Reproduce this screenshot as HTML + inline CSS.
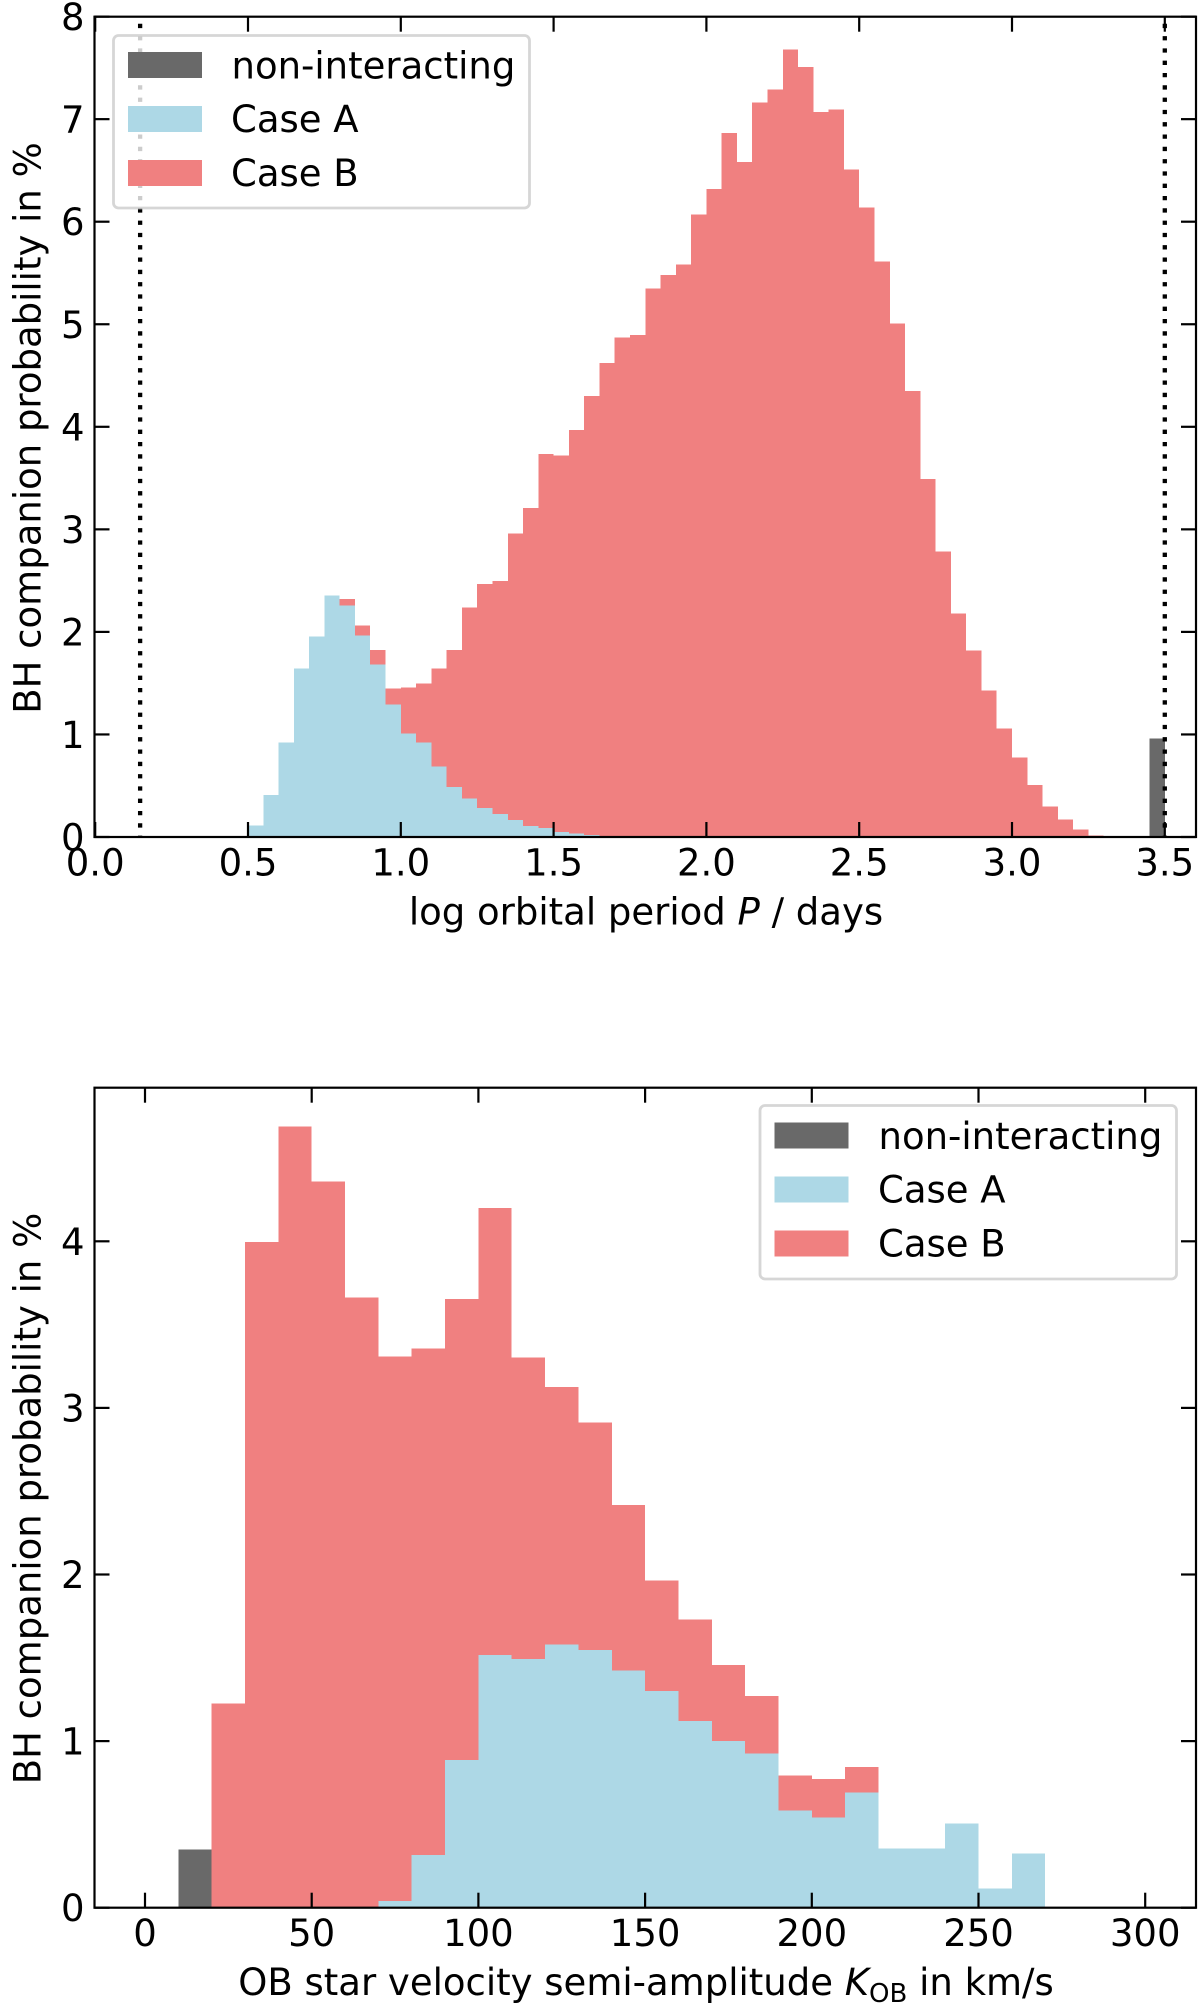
<!DOCTYPE html>
<html lang="en">
<head>
<meta charset="utf-8">
<title>BH companion probability histograms</title>
<style>
html,body{margin:0;padding:0;background:#fff;}
svg{display:block;filter:blur(0.35px);}
text{font-family:"DejaVu Sans","Liberation Sans",sans-serif;fill:#000;font-size:37px;}
</style>
</head>
<body>
<svg id="figure" xmlns="http://www.w3.org/2000/svg" width="1200" height="2011" viewBox="0 0 1200 2011">
  <rect x="0" y="0" width="1200" height="2011" fill="#ffffff"/>
  <g id="period-panel"></g>
  <g id="period-legend">
    <rect x="113.5" y="35.5" width="416" height="172.5" rx="5" fill="#ffffff" fill-opacity="0.8" stroke="#cccccc" stroke-opacity="0.8" stroke-width="2.8"/>
    <rect x="128" y="52" width="74" height="26" fill="#696969"/>
    <rect x="128" y="106" width="74" height="26" fill="#add8e6"/>
    <rect x="128" y="160" width="74" height="26" fill="#f08080"/>
    <text x="231.5" y="78.5">non-interacting</text>
    <text x="231" y="132">Case A</text>
    <text x="231" y="186">Case B</text>
  </g>
  <text transform="translate(40.5 428) rotate(-90)" text-anchor="middle">BH companion probability in %</text>
  <text x="646" y="924.5" text-anchor="middle">log orbital period <tspan font-style="italic">P</tspan> / days</text>

  <g id="velocity-panel"></g>
  <g id="velocity-legend">
    <rect x="760" y="1105.5" width="416.5" height="173.5" rx="5" fill="#ffffff" fill-opacity="0.8" stroke="#cccccc" stroke-opacity="0.8" stroke-width="2.8"/>
    <rect x="774.5" y="1122.5" width="74" height="26" fill="#696969"/>
    <rect x="774.5" y="1176.5" width="74" height="26" fill="#add8e6"/>
    <rect x="774.5" y="1230.5" width="74" height="26" fill="#f08080"/>
    <text x="878.5" y="1149">non-interacting</text>
    <text x="878" y="1202.5">Case A</text>
    <text x="878" y="1256.5">Case B</text>
  </g>
  <text transform="translate(40.5 1498.5) rotate(-90)" text-anchor="middle">BH companion probability in %</text>
  <text x="646" y="1995" text-anchor="middle">OB star velocity semi-amplitude <tspan font-style="italic">K</tspan><tspan font-size="26" dy="7">OB</tspan><tspan dy="-7"> in km/s</tspan></text>
</svg>
<script>
// ---------- top panel data: log orbital period ----------
const periodBinStarts = [0.50,0.55,0.60,0.65,0.70,0.75,0.80,0.85,0.90,0.95,1.00,1.05,1.10,1.15,1.20,1.25,1.30,1.35,1.40,1.45,1.50,1.55,1.60,1.65,1.70,1.75,1.80,1.85,1.90,1.95,2.00,2.05,2.10,2.15,2.20,2.25,2.30,2.35,2.40,2.45,2.50,2.55,2.60,2.65,2.70,2.75,2.80,2.85,2.90,2.95,3.00,3.05,3.10,3.15,3.20,3.25,3.30,3.35,3.40,3.45];
const periodNonInteracting = [0,0,0,0,0,0,0,0,0,0,0,0,0,0,0,0,0,0,0,0,0,0,0,0,0,0,0,0,0,0,0,0,0,0,0,0,0,0,0,0,0,0,0,0,0,0,0,0,0,0,0,0,0,0,0,0,0,0,0,0.959];
const periodCaseA = [0.114,0.41,0.92,1.645,1.953,2.357,2.256,1.963,1.68,1.29,1.008,0.923,0.686,0.49,0.377,0.283,0.224,0.166,0.107,0.088,0.049,0.033,0.02,0.01,0.005,0,0,0,0,0,0,0,0,0,0,0,0,0,0,0,0,0,0,0,0,0,0,0,0,0,0,0,0,0,0,0,0,0,0,0];
const periodCaseB = [0,0,0,0,0,0,0.064,0.097,0.144,0.16,0.452,0.572,0.959,1.334,1.859,2.184,2.272,2.792,3.101,3.647,3.671,3.937,4.28,4.61,4.865,4.895,5.35,5.48,5.585,6.07,6.32,6.865,6.58,7.16,7.29,7.68,7.51,7.07,7.095,6.51,6.14,5.61,5.005,4.35,3.49,2.786,2.178,1.82,1.427,1.06,0.774,0.507,0.296,0.172,0.075,0.016,0,0,0,0];
const periodBinWidth = 0.05;
const periodXTicks = [0,0.5,1,1.5,2,2.5,3,3.5];
const periodXTickLabels = ["0.0","0.5","1.0","1.5","2.0","2.5","3.0","3.5"];
const periodYTicks = [0,1,2,3,4,5,6,7,8];
const periodYTickLabels = ["0","1","2","3","4","5","6","7","8"];
const periodBoundaries = [0.147,3.5];

// ---------- bottom panel data: velocity semi-amplitude ----------
const velocityBinStarts = [10,20,30,40,50,60,70,80,90,100,110,120,130,140,150,160,170,180,190,200,210,220,230,240,250,260];
const velocityNonInteracting = [0.35,0,0,0,0,0,0,0,0,0,0,0,0,0,0,0,0,0,0,0,0,0,0,0,0,0];
const velocityCaseA = [0,0,0,0,0,0,0.04,0.316,0.888,1.518,1.494,1.58,1.546,1.425,1.30,1.12,1.0,0.925,0.584,0.54,0.69,0.356,0.356,0.506,0.116,0.324];
const velocityCaseB = [0,1.226,3.996,4.688,4.36,3.663,3.269,3.041,2.765,2.682,1.809,1.545,1.367,0.992,0.665,0.61,0.458,0.345,0.21,0.234,0.154,0,0,0,0,0];
const velocityBinWidth = 10;
const velocityXTicks = [0,50,100,150,200,250,300];
const velocityXTickLabels = ["0","50","100","150","200","250","300"];
const velocityYTicks = [0,1,2,3,4];
const velocityYTickLabels = ["0","1","2","3","4"];

const SVGNS = 'http://www.w3.org/2000/svg';
function make(parent, tag, attrs) {
  const node = document.createElementNS(SVGNS, tag);
  for (const k in attrs) node.setAttribute(k, attrs[k]);
  parent.appendChild(node);
  return node;
}

// axis functions
const periodX = v => 95.2 + v * 305.6;
const periodY = v => 837 - v * 102.55;
const velocityX = v => 145 + v * 3.334;
const velocityY = v => 1907.7 - v * 166.6;

const COLORS = { nonInteracting: '#696969', caseA: '#add8e6', caseB: '#f08080' };
const INK = '#000000';

function drawBars(panel, starts, width, ni, a, b, xf, yf) {
  starts.forEach(function (start, i) {
    const x1 = xf(start);
    const x2 = xf(start + width);
    let base = 0;
    if (ni[i] > 0) {
      const r = make(panel, 'rect', { x: x1, y: yf(base + ni[i]), width: x2 - x1, height: yf(base) - yf(base + ni[i]), fill: COLORS.nonInteracting, 'shape-rendering': 'crispEdges' });
      
      
      base += ni[i];
    }
    if (a[i] > 0) {
      const r = make(panel, 'rect', { x: x1, y: yf(base + a[i]), width: x2 - x1, height: yf(base) - yf(base + a[i]), fill: COLORS.caseA, 'shape-rendering': 'crispEdges' });
      
      
      base += a[i];
    }
    if (b[i] > 0) {
      const r = make(panel, 'rect', { x: x1, y: yf(base + b[i]), width: x2 - x1, height: yf(base) - yf(base + b[i]), fill: COLORS.caseB, 'shape-rendering': 'crispEdges' });
      
      
    }
  });
}

function drawAxes(panel, left, right, top, bottom, xTicks, xLabels, yTicks, yLabels, xf, yf, xLabelBaseline) {
  const TICK = 15;
  xTicks.forEach(function (v, i) {
    const x = xf(v);
    const t1 = make(panel, 'line', { x1: x, x2: x, y1: bottom, y2: bottom - TICK, stroke: INK, 'stroke-width': 2.2 });
    
    
    const t2 = make(panel, 'line', { x1: x, x2: x, y1: top, y2: top + TICK, stroke: INK, 'stroke-width': 2.2 });
    
    
    const label = make(panel, 'text', { x: x, y: xLabelBaseline, 'text-anchor': 'middle' });
    label.textContent = xLabels[i];
    
    
  });
  yTicks.forEach(function (v, i) {
    const y = yf(v);
    const t1 = make(panel, 'line', { x1: left, x2: left + TICK, y1: y, y2: y, stroke: INK, 'stroke-width': 2.2 });
    
    
    const t2 = make(panel, 'line', { x1: right, x2: right - TICK, y1: y, y2: y, stroke: INK, 'stroke-width': 2.2 });
    
    
    const label = make(panel, 'text', { x: 84.5, y: y + 13.5, 'text-anchor': 'end' });
    label.textContent = yLabels[i];
    
    
  });
  const frame = make(panel, 'rect', { x: left, y: top, width: right - left, height: bottom - top, fill: 'none', stroke: INK, 'stroke-width': 2.2 });
  
  
}

const periodPanel = document.getElementById('period-panel');
drawBars(periodPanel, periodBinStarts, periodBinWidth, periodNonInteracting, periodCaseA, periodCaseB, periodX, periodY);
periodBoundaries.forEach(function (v) {
  const l = make(periodPanel, 'line', { x1: periodX(v), x2: periodX(v), y1: periodY(7.93), y2: periodY(0), stroke: INK, 'stroke-width': 4.3, 'stroke-dasharray': '4.3 8' });
  
  
});
drawAxes(periodPanel, 94.5, 1196, 16.7, 837, periodXTicks, periodXTickLabels, periodYTicks, periodYTickLabels, periodX, periodY, 875.5);

const velocityPanel = document.getElementById('velocity-panel');
drawBars(velocityPanel, velocityBinStarts, velocityBinWidth, velocityNonInteracting, velocityCaseA, velocityCaseB, velocityX, velocityY);
drawAxes(velocityPanel, 94.5, 1196, 1087.7, 1907.7, velocityXTicks, velocityXTickLabels, velocityYTicks, velocityYTickLabels, velocityX, velocityY, 1946);
</script>
</body>
</html>
